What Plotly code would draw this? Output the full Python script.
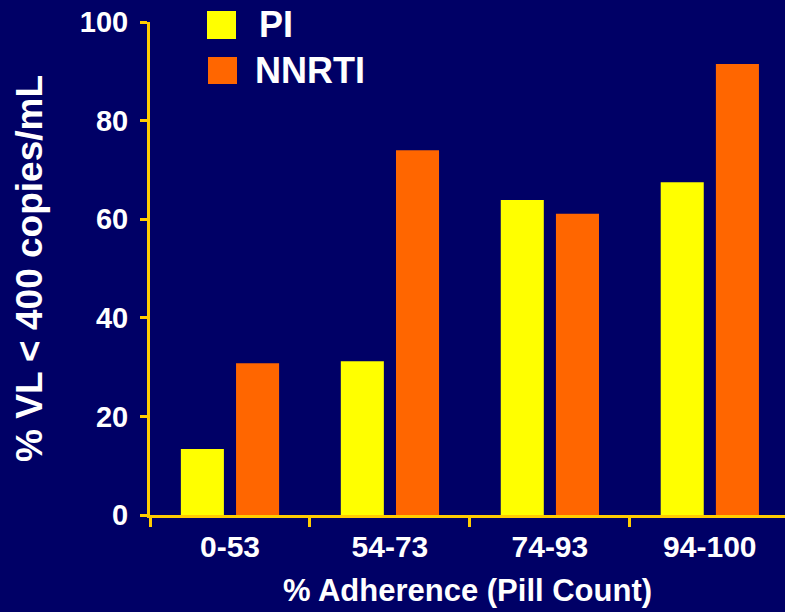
import plotly.graph_objects as go

categories = ["0-53", "54-73", "74-93", "94-100"]
pi_values = [13.4, 31.2, 63.9, 67.5]
nnrti_values = [30.8, 74.0, 61.1, 91.5]
series_names = ["PI", "NNRTI"]
y_ticks = [0, 20, 40, 60, 80, 100]

BG = "#000066"
AXIS = "#FFCC00"
YELLOW = "#FFFF00"
ORANGE = "#FF6600"
FONT = "Liberation Sans, Arial, sans-serif"

W, H = 785, 612
L, R, T, B = 150, 0, 22, 97
PW, PH = W - L - R, H - T - B

def px(x):
    return (x - L) / PW

def py(y):
    return (H - B - y) / PH

fig = go.Figure()
fig.add_trace(go.Bar(x=categories, y=pi_values, name=series_names[0],
                     marker=dict(color=YELLOW, line=dict(width=0)), showlegend=False))
fig.add_trace(go.Bar(x=categories, y=nnrti_values, name=series_names[1],
                     marker=dict(color=ORANGE, line=dict(width=0)), showlegend=False))

shapes = []
annotations = []
legend_items = [
    (series_names[0], YELLOW, (207, 11, 236, 39), (257, 25)),
    (series_names[1], ORANGE, (208, 57, 237, 84), (253, 70)),
]
for name, color, (x0, y0, x1, y1), (tx, ty) in legend_items:
    shapes.append(dict(type="rect", xref="paper", yref="paper",
                       x0=px(x0), x1=px(x1), y0=py(y1), y1=py(y0),
                       fillcolor=color, line=dict(width=0), layer="above"))
    annotations.append(dict(text=name, xref="paper", yref="paper",
                            x=px(tx), y=py(ty), xanchor="left", yanchor="middle",
                            showarrow=False,
                            font=dict(family=FONT, size=36, color="white", weight="bold")))

fig.update_layout(
    width=W, height=H,
    margin=dict(l=L, r=R, t=T, b=B, pad=0),
    paper_bgcolor=BG, plot_bgcolor=BG,
    barmode="group", bargap=0.31, bargroupgap=0.22,
    shapes=shapes, annotations=annotations,
    showlegend=False,
)
fig.update_xaxes(
    range=[-0.5, 3.47],
    showline=True, linecolor=AXIS, linewidth=3,
    ticks="outside", tickson="boundaries", ticklen=9, tickwidth=3, tickcolor=AXIS,
    showgrid=False, zeroline=False,
    tickfont=dict(family=FONT, size=30, color="white", weight="bold"),
    ticklabelstandoff=3,
    title=dict(text="% Adherence (Pill Count)", standoff=18,
               font=dict(family=FONT, size=31, color="white", weight="bold")),
)
fig.update_yaxes(
    range=[0, 100], tickvals=y_ticks,
    showline=True, linecolor=AXIS, linewidth=3,
    ticks="outside", ticklen=7, tickwidth=3, tickcolor=AXIS,
    showgrid=False, zeroline=False,
    tickfont=dict(family=FONT, size=29, color="white", weight="bold"),
    ticklabelstandoff=6,
    title=dict(text="% VL < 400 copies/mL", standoff=26,
               font=dict(family=FONT, size=37, color="white", weight="bold")),
)

fig.write_html("out.html", config={"displayModeBar": False},
               post_script="document.body.style.margin='0';")
